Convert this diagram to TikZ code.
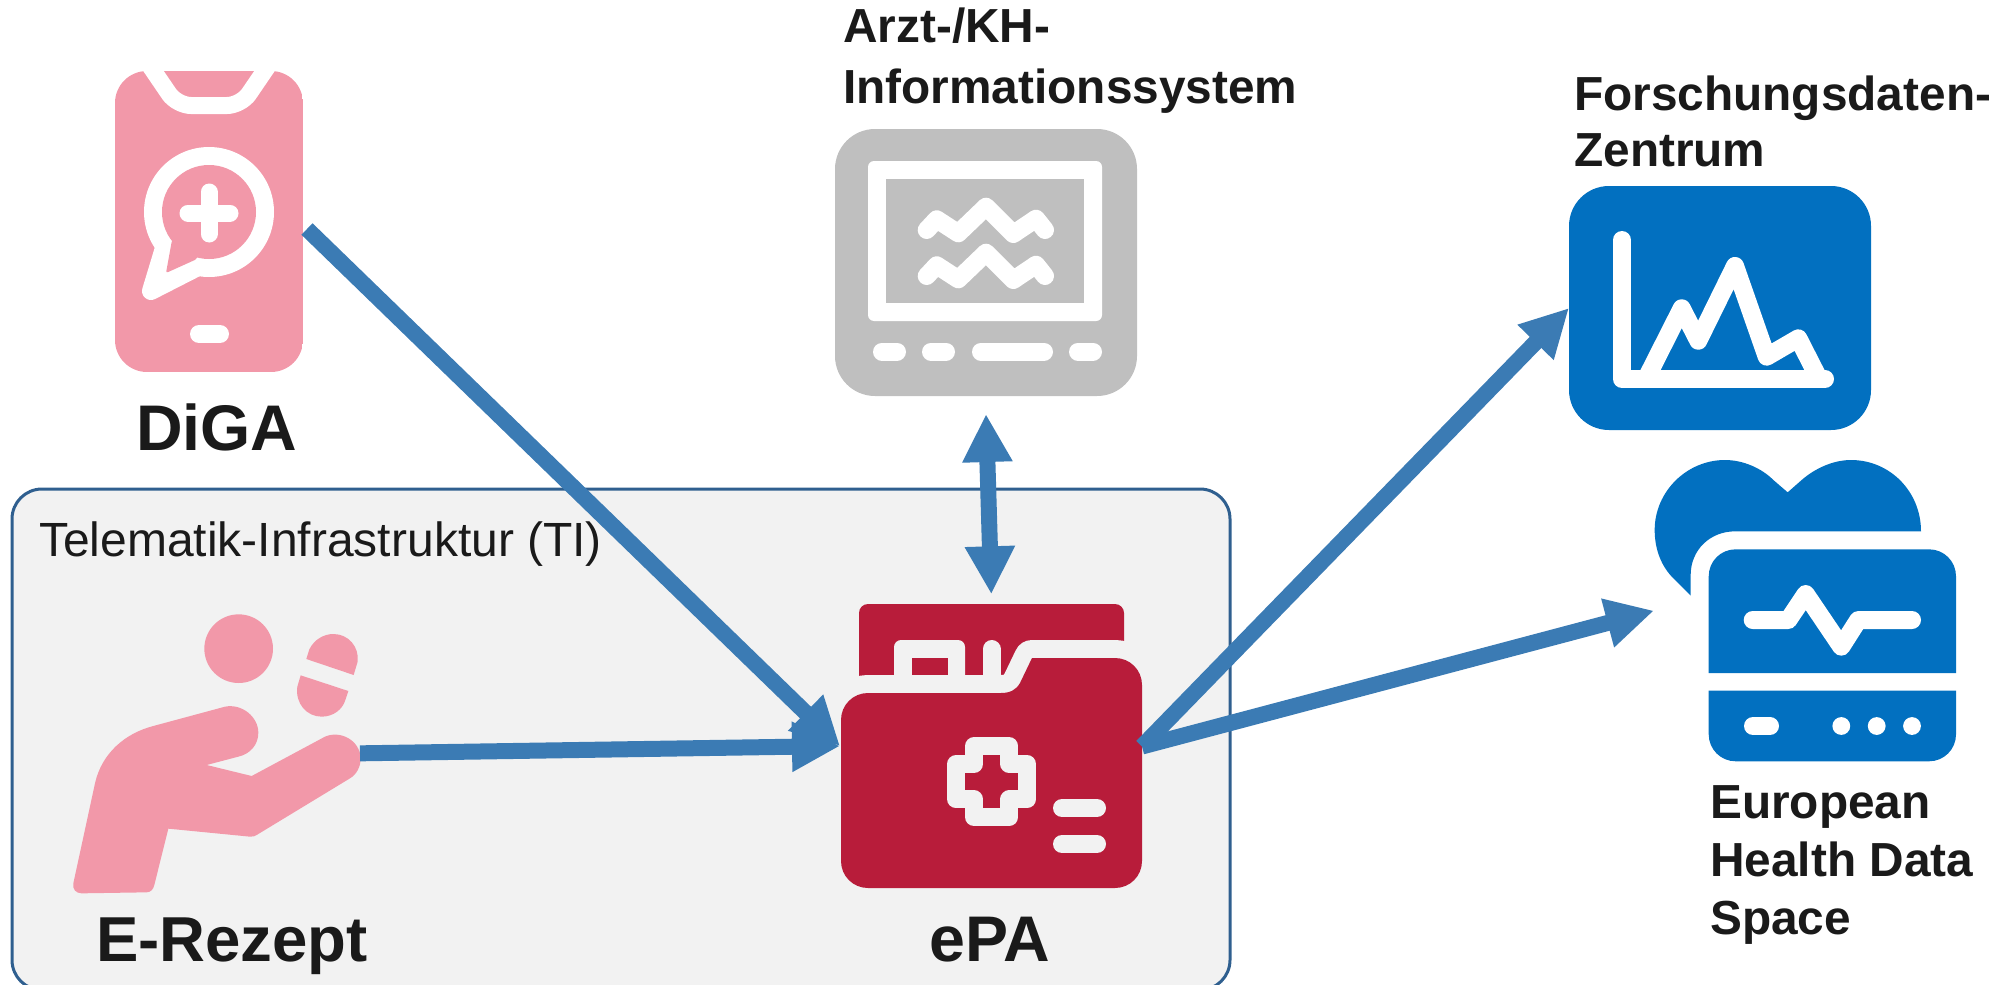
\documentclass[tikz,border=0pt]{standalone}
\usepackage{fontspec}
\setmainfont{Liberation Sans}
\usetikzlibrary{arrows.meta}
\definecolor{flowblue}{HTML}{3B7BB4}
\definecolor{tiedge}{HTML}{2F5F8F}
\definecolor{tibg}{HTML}{F2F2F2}
\definecolor{rosa}{HTML}{F298A9}
\definecolor{karmin}{HTML}{B81C3A}
\definecolor{grau}{HTML}{BFBFBF}
\definecolor{iconblue}{HTML}{0270C0}
\definecolor{ink}{HTML}{1A1A1A}
\tikzset{
  whiteline/.style={draw=white,line width=18pt,line cap=round,line join=round},
  bgline/.style={draw=tibg,line width=18pt,line cap=round,line join=round},
  flowtip/.tip={Triangle[length=48pt,width=47pt]},
  flow/.style={draw=flowblue,line width=16pt,-{flowtip}},
  flowboth/.style={draw=flowblue,line width=16pt,{flowtip}-{flowtip}},
  biglabel/.style={inner sep=0pt,anchor=base west,text=ink,font=\fontsize{64.5}{70}\selectfont\bfseries},
  midlabel/.style={inner sep=0pt,anchor=base west,text=ink,align=left,font=\fontsize{47.8}{58}\selectfont\bfseries},
  plainlabel/.style={inner sep=0pt,anchor=base west,text=ink,font=\fontsize{48}{58}\selectfont},
  zoomed/.style={x=0.33333pt,y=-0.33333pt}
}
\newcommand{\folderpath}{(841,720) .. controls (841,705) and (853,693) .. (868,693) -- (1001,693) .. controls (1010,693) and (1016,690) .. (1020,683) -- (1032,658) -- (1115,658) .. controls (1130,658) and (1142,670) .. (1142,685) -- (1142,861) .. controls (1142,876) and (1130,888) .. (1115,888) -- (868,888) .. controls (853,888) and (841,876) .. (841,861) -- cycle}
\begin{document}
\begin{tikzpicture}[x=1pt,y=-1pt]
\useasboundingbox (0,0) rectangle (2005,985);
% TI box
\draw[fill=tibg,draw=tiedge,line width=3pt,rounded corners=30pt] (12,489) rectangle (1230,990);
\node[plainlabel] (ti) at (39,556) {Telematik-Infrastruktur (TI)};

% Phone
\begin{scope}
\clip[rounded corners=32pt] (115,71) rectangle (303,372);
\fill[rosa] (115,71) rectangle (303,372);
\draw[draw=white,line width=17pt,rounded corners=14pt] (146,60)--(177,105.5)--(241,105.5)--(272,60);
\end{scope}
\fill[white] (209,212) circle (65);
\filldraw[white,line width=18pt,line join=round] (164,248)--(151,291)--(198,267)--cycle;
\fill[rosa] (209,212) circle (47);
\fill[rosa,rounded corners=2pt] (172,240)--(166,273)--(197,259)--(209,212)--cycle;
\draw[draw=white,line width=17pt,line cap=round] (188,213)--(230,213) (209,192)--(209,234);
\draw[whiteline] (199,334)--(220,334);
\coordinate (phoneout) at (307,229);

% Monitor
\fill[grau,rounded corners=40pt] (835,129) rectangle (1137,396);
\fill[white,rounded corners=6pt] (868,161) rectangle (1102,321);
\fill[grau] (886,179) rectangle (1084,303);
\draw[whiteline] (926.7,230)--(936.7,219.3)--(958.3,233.3)--(986,206.7)--(1013.3,234)--(1036,218.7)--(1045,230);
\draw[whiteline] (926.7,276)--(936.7,265.3)--(958.3,279.3)--(986,252.7)--(1013.3,280)--(1036,264.7)--(1045,276);
\draw[whiteline] (882,351.7)--(897,351.7) (931,351.7)--(946,351.7) (981,351.7)--(1044,351.7) (1078,351.7)--(1093,351.7);
\coordinate (monitorport) at (986,414);

% Folder
\fill[karmin,rounded corners=9pt] (859,700)--(859,604)--(1124,604)--(1124,700)--cycle;
\fill[tibg,rounded corners=7pt] (894,690)--(894,640)--(965,640)--(965,690)--cycle;
\fill[karmin] (912,658) rectangle (948,680);
\draw[draw=tibg,line width=36pt,line join=round] \folderpath;
\draw[bgline] (991.5,690)--(991.5,649);
\fill[karmin] \folderpath;
\filldraw[fill=karmin,draw=tibg,line width=18pt,line join=round]
  (974,746.3)--(1009.4,746.3)--(1009.4,764)--(1027.1,764)--(1027.1,799.4)--(1009.4,799.4)--(1009.4,817.1)--(974,817.1)--(974,799.4)--(956.3,799.4)--(956.3,764)--(974,764)--cycle;
\draw[bgline] (1062,808)--(1097,808) (1062,844)--(1097,844);
\coordinate (folderwest) at (840,746);
\coordinate (foldertop) at (991.3,594.3);
\coordinate (foldereast) at (1142,746.5);

% Person and capsule
\begin{scope}[shift={(50,590)},zoomed]
\fill[rosa] (566,176) circle (103);
\fill[rosa] (769,207)--(778,178) .. controls (793,148) and (822,132) .. (850,132) .. controls (895,132) and (928,170) .. (923,215) -- (911,255) -- cycle;
\fill[rosa] (752,256)--(742,290) .. controls (735,340) and (770,380) .. (815,380) .. controls (850,380) and (878,358) .. (886,330) -- (895,303) -- cycle;
\fill[rosa] (70,880) -- (135,580) .. controls (155,490) and (225,430) .. (310,408) -- (525,350)
  .. controls (575,340) and (625,380) .. (625,428) .. controls (625,465) and (600,492) .. (565,500)
  -- (470,525) -- (605,558) -- (825,440)
  .. controls (870,420) and (930,450) .. (932,505) .. controls (932,530) and (920,553) .. (900,565)
  -- (620,735) .. controls (614,739) and (610,740) .. (600,740) -- (355,716) -- (313,885)
  .. controls (310,898) and (302,907) .. (290,907) -- (95,910)
  .. controls (78,910) and (67,898) .. (70,880) -- cycle;
\coordinate (handout) at (930,490);
\end{scope}

% Chart icon
\fill[iconblue,rounded corners=40pt] (1569,186) rectangle (1871,430);
\draw[whiteline] (1622,240)--(1622,379)--(1825,379);
\draw[whiteline] (1647,377)--(1681.7,308.3)--(1698.3,340.7)--(1735,266)--(1766.7,356.7)--(1798.3,338.3)--(1819,379);
\coordinate (chartport) at (1569,308);

% Heart and device
\begin{scope}[shift={(1640,440)},zoomed]
\fill[iconblue] (152,467) -- (100,415) .. controls (65,380) and (44,330) .. (44,270)
 .. controls (44,155) and (140,60) .. (255,60) .. controls (310,60) and (365,85) .. (400,120)
 -- (443,157) -- (485,120) .. controls (525,85) and (580,60) .. (633,60)
 .. controls (750,60) and (843,155) .. (843,274) -- (285,274)
 .. controls (210,274) and (152,330) .. (152,405) -- cycle;
\coordinate (heartport) at (42,512);
\end{scope}
\fill[iconblue] (1708.7,673)--(1708.7,576.3) .. controls (1708.7,561.3) and (1720.7,549.3) .. (1735.7,549.3) -- (1929,549.3) .. controls (1944,549.3) and (1956,561.3) .. (1956,576.3) -- (1956,673) -- cycle;
\fill[iconblue] (1708.7,690.7)--(1956,690.7)--(1956,734.3) .. controls (1956,749.3) and (1944,761.3) .. (1929,761.3)--(1735.7,761.3) .. controls (1720.7,761.3) and (1708.7,749.3) .. (1708.7,734.3) -- cycle;
\draw[whiteline] (1752.7,620)--(1788.3,620)--(1805.7,594)--(1841.3,646.7)--(1858.3,620)--(1912,620);
\draw[whiteline] (1753,726)--(1770,726);
\fill[white] (1841.3,726) circle (8.9) (1876.7,726) circle (8.9) (1912,726) circle (8.9);

% Connectors
\draw[flow] (phoneout) -- (folderwest);
\draw[flow] (handout) -- (folderwest);
\draw[flowboth] (monitorport) -- (foldertop);
\draw[flow] (foldereast) -- (chartport);
\draw[flow] (foldereast) -- (heartport);

% Labels
\node[biglabel] (diga) at (136,450) {DiGA};
\node[biglabel,font=\fontsize{63.5}{70}\selectfont\bfseries] (erezept) at (96,961) {E-Rezept};
\node[biglabel] (epa) at (929,961) {ePA};
\node[midlabel] (ais) at (843,42) {Arzt-/KH-};
\node[midlabel] (ais2) at (843,103) {Informationssystem};
\node[midlabel] (fdz) at (1574,110) {Forschungsdaten-};
\node[midlabel] (fdz2) at (1574,166) {Zentrum};
\node[midlabel] (ehds) at (1710,818) {European};
\node[midlabel] (ehds2) at (1710,876) {Health Data};
\node[midlabel] (ehds3) at (1710,934) {Space};
\end{tikzpicture}
\end{document}
